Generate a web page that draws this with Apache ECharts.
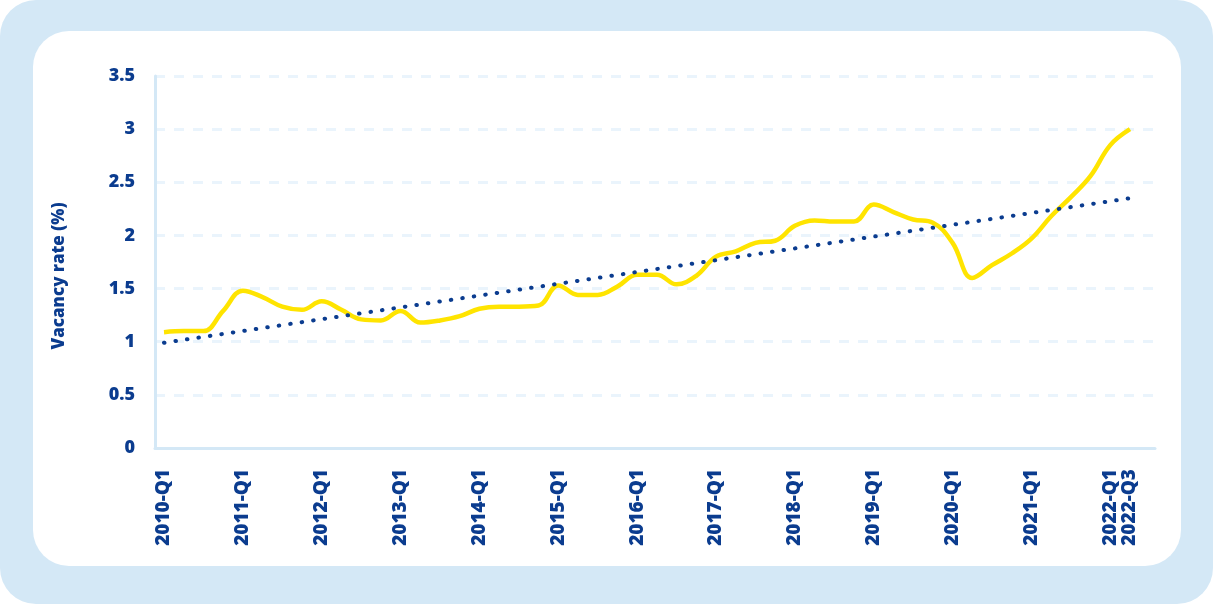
<!DOCTYPE html>
<html>
<head>
<meta charset="utf-8">
<script src="https://cdn.jsdelivr.net/npm/echarts@6/dist/echarts.min.js"></script>
<style>
  html, body { margin: 0; padding: 0; background: #fff; }
  #chart { width: 1213px; height: 604px; }
</style>
</head>
<body>
<div id="chart"></div>
<script>
const quarters = [];
for (let y = 2010; y <= 2022; y++) {
  for (let q = 1; q <= 4; q++) {
    if (y === 2022 && q > 1) break;
    quarters.push(y + "-Q" + q);
  }
}
quarters.push("2022-Q3");

const vacancy = [
  1.09, 1.10, 1.10, 1.29, 1.48, 1.42, 1.33, 1.30, 1.38, 1.30,
  1.21, 1.20, 1.29, 1.18, 1.20, 1.24, 1.31, 1.33, 1.33, 1.34,
  1.53, 1.44, 1.44, 1.52, 1.63, 1.63, 1.54, 1.62, 1.80, 1.85,
  1.93, 1.95, 2.09, 2.14, 2.13, 2.13, 2.29, 2.22, 2.15, 2.12,
  1.93, 1.60, 1.72, 1.83, 1.97, 2.18, 2.36, 2.56, 2.85, 3.00,
];

// linear trend, first and last quarter
const trend = [0.99, 2.35];

const yTicks = [0, 3.5, 0.5];

const navy = "#0b3c8f";
const paleBlue = "#d4e8f6";
const font = "Open Sans";

const chart = echarts.init(document.getElementById("chart"));
const last = quarters.length - 1;

chart.setOption({
  animation: false,
  graphic: [
    { type: "rect", z: -100, shape: { x: 0, y: 0, width: 1213, height: 604, r: 36 }, style: { fill: paleBlue } },
    { type: "rect", z: -99, shape: { x: 33, y: 31, width: 1148, height: 535, r: 36 }, style: { fill: "#fff" } },
    {
      type: "text", x: 59, y: 276, rotation: Math.PI / 2,
      style: {
        text: "Vacancy rate (%)", fill: navy, font: "800 17px " + font,
        align: "center", verticalAlign: "middle",
      },
    },
  ],
  grid: [
    { left: 155, right: 58, top: 76, bottom: 156 },
    { left: 164, right: 83, top: 76, bottom: 156 },
  ],
  xAxis: [
    {
      gridIndex: 0, type: "value", min: 0, max: 1,
      axisLine: { show: true, lineStyle: { color: paleBlue, width: 3 } },
      axisTick: { show: false }, axisLabel: { show: false }, splitLine: { show: false },
    },
    {
      gridIndex: 1, type: "category", data: quarters, boundaryGap: false,
      axisLine: { show: false }, axisTick: { show: false }, splitLine: { show: false },
      axisLabel: {
        rotate: 90, margin: 21, color: navy, fontWeight: 800, fontSize: 19, fontFamily: font,
        interval: (i) => i % 4 === 0 || i === last,
      },
    },
  ],
  yAxis: [
    {
      gridIndex: 0, type: "value", min: yTicks[0], max: yTicks[1], interval: yTicks[2],
      axisLine: { show: true, lineStyle: { color: paleBlue, width: 3 } },
      axisTick: { show: false },
      axisLabel: { margin: 20, color: navy, fontWeight: 800, fontSize: 18, fontFamily: font },
      splitLine: { lineStyle: { color: "#eaf4fc", width: 3, type: [10, 9] } },
    },
    {
      gridIndex: 1, type: "value", min: yTicks[0], max: yTicks[1],
      show: false,
    },
  ],
  series: [
    {
      type: "line", xAxisIndex: 1, yAxisIndex: 1, data: vacancy,
      smooth: 0.4, showSymbol: false,
      lineStyle: { color: "#ffe400", width: 4.5 },
    },
    {
      type: "line", xAxisIndex: 1, yAxisIndex: 1,
      data: [[quarters[0], trend[0]], [quarters[last], trend[1]]],
      showSymbol: false,
      lineStyle: { color: navy, width: 4, type: [0.5, 11.1], cap: "round" },
    },
  ],
});
</script>
</body>
</html>
